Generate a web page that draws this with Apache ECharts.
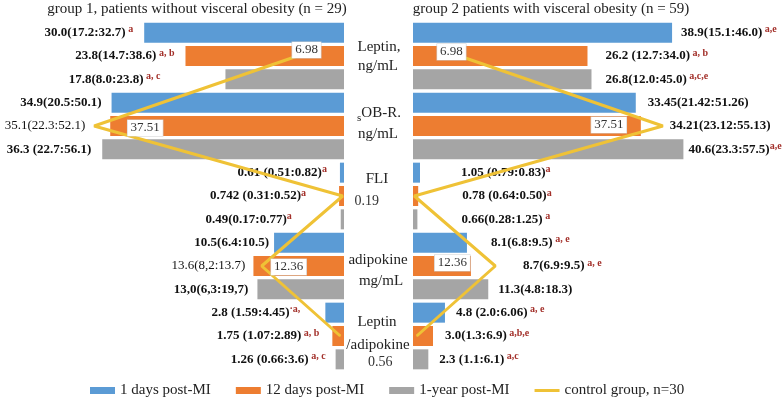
<!DOCTYPE html>
<html><head><meta charset="utf-8">
<script src="https://cdn.jsdelivr.net/npm/echarts@6/dist/echarts.min.js"></script>
<style>html,body{margin:0;padding:0;background:#fff}#c{width:784px;height:397px}</style>
</head><body><div id="c"></div>
<script>
const categories = ['Leptin', 'sOB-R', 'FLI', 'adipokine', 'Leptin/adipokine'];
const seriesNames = ['1 days post-MI', '12 days post-MI', '1-year post-MI'];
const controlName = 'control group, n=30';

// group 1 (without visceral obesity) medians
const g1Day1 = [30.0, 34.9, 0.61, 10.5, 2.8];
const g1Day12 = [23.8, 35.1, 0.742, 13.6, 1.75];
const g1Year = [17.8, 36.3, 0.49, 13.0, 1.26];
// group 2 (with visceral obesity) medians
const g2Day1 = [38.9, 33.45, 1.05, 8.1, 4.8];
const g2Day12 = [26.2, 34.21, 0.78, 8.7, 3.0];
const g2Year = [26.8, 40.6, 0.66, 11.3, 2.3];
// control group
const control = [6.98, 37.51, 0.19, 12.36, 0.56];

// label texts
const g1Day1Txt = ['30.0(17.2:32.7)', '34.9(20.5:50.1)', '0.61 (0.51:0.82)', '10.5(6.4:10.5)', '2.8 (1.59:4.45)'];
const g1Day1Sup = [' a', '', 'a', '', '\u00b7a,'];
const g1Day12Txt = ['23.8(14.7:38.6)', '35.1(22.3:52.1)', '0.742 (0.31:0.52)', '13.6(8,2:13.7)', '1.75 (1.07:2.89)'];
const g1Day12Sup = [' a, b', '', 'a', '', ' a, b'];
const g1YearTxt = ['17.8(8.0:23.8)', '36.3 (22.7:56.1)', '0.49(0.17:0.77)', '13,0(6,3:19,7)', '1.26 (0.66:3.6)'];
const g1YearSup = [' a, c', '', 'a', '', ' a, c'];
const g2Day1Txt = ['38.9(15.1:46.0)', '33.45(21.42:51.26)', '1.05 (0.79:0.83)', '8.1(6.8:9.5)', '4.8 (2.0:6.06)'];
const g2Day1Sup = [' a,e', '', 'a', ' a, e', ' a, e'];
const g2Day12Txt = ['26.2 (12.7:34.0)', '34.21(23.12:55.13)', '0.78 (0.64:0.50)', '8.7(6.9:9.5)', '3.0(1.3:6.9)'];
const g2Day12Sup = [' a, b', '', 'a', ' a, e', ' a,b,e'];
const g2YearTxt = ['26.8(12.0:45.0)', '40.6(23.3:57.5)', '0.66(0.28:1.25)', '11.3(4.8:18.3)', '2.3 (1.1:6.1)'];
const g2YearSup = [' a,c,e', 'a,e', ' a', '', ' a,c'];

// label gaps (px) between bar end and label
const g1Day1Gap = [11, 10, 13, 5, 25];
const g1Day12Gap = [11, 25, 33, 8, 13];
const g1YearGap = [65, 11, 49, 9, 10];
const g2Day1Gap = [9, 12, 41, 24, 11];
const g2Day12Gap = [18, 29, 44, 52, 12];
const g2YearGap = [14, 5, 44, 10, 11];
const g1Day12Plain = [1, 3];

const colors = ['#5b9bd5', '#ed7d31', '#a5a5a5'];
const lineColor = '#efc236';
const serif = '"Liberation Serif", "Times New Roman", serif';

const rich = {
  v: {fontFamily: serif, fontSize: 13, fontWeight: 'bold', color: '#111', lineHeight: 16},
  p: {fontFamily: serif, fontSize: 13, color: '#111', lineHeight: 16},
  s: {fontFamily: serif, fontSize: 10, fontWeight: 'bold', color: '#a3302a', lineHeight: 8, verticalAlign: 'top'}
};

function barSeries(name, values, txt, sup, gaps, gi, color, side, plain) {
  plain = plain || [];
  return {
    type: 'bar', name: name, xAxisIndex: gi, yAxisIndex: gi,
    barWidth: 20, barGap: '16.7%',
    itemStyle: {color: color},
    data: values.map((v, i) => ({value: v, label: {distance: gaps[i]}})),
    label: {
      show: true, position: side,
      formatter: p => {
        const i = p.dataIndex;
        const main = '{' + (plain.includes(i) ? 'p' : 'v') + '|' + txt[i] + '}';
        return sup[i] ? main + '{s|' + sup[i] + '}' : main;
      },
      rich: rich
    },
    z: 2
  };
}

const boxLabel = {backgroundColor: '#fff', borderColor: '#cfcfcf', borderWidth: 0.6, padding: [2, 3, 1, 3]};
const leftCtlLabel = [
  Object.assign({show: true, offset: [9, -6]}, boxLabel),
  Object.assign({show: true, offset: [51, 2]}, boxLabel),
  {show: true, offset: [24, 5], fontSize: 14},
  Object.assign({show: true, offset: [27, 1]}, boxLabel),
  {show: true, offset: [40, 26], fontSize: 14}
];
const rightCtlLabel = [
  Object.assign({show: true, offset: [-8, -4]}, boxLabel),
  Object.assign({show: true, offset: [-54, -1]}, boxLabel),
  {show: false},
  Object.assign({show: true, offset: [-43, -3]}, boxLabel),
  {show: false}
];

function lineSeries(gi, labels) {
  return {
    type: 'line', name: controlName, xAxisIndex: gi, yAxisIndex: gi,
    symbol: 'circle', symbolSize: 1, showSymbol: true,
    lineStyle: {color: lineColor, width: 3},
    itemStyle: {color: lineColor},
    data: control.map((v, i) => ({value: v, label: labels[i]})),
    label: {position: 'inside', fontFamily: serif, fontSize: 13, color: '#333', formatter: p => control[p.dataIndex].toFixed(2)},
    z: 5
  };
}

const hiddenX = (inv) => ({type: 'value', min: 0, max: 50, inverse: inv, show: false});
const hiddenY = (gi) => ({type: 'category', data: categories, inverse: true, show: false, gridIndex: gi});

const chart = echarts.init(document.getElementById('c'));
const midText = (t, x, y) => ({type: 'text', x: x, y: y, style: {text: t, fontFamily: serif, fontSize: 15, fill: '#222', align: 'center', verticalAlign: 'middle'}});

chart.setOption({
  animation: false,
  backgroundColor: '#fff',
  grid: [
    {left: 11, top: 21, width: 333, height: 350},
    {left: 413, top: 21, width: 333, height: 350}
  ],
  xAxis: [Object.assign(hiddenX(true), {gridIndex: 0}), Object.assign(hiddenX(false), {gridIndex: 1})],
  yAxis: [hiddenY(0), hiddenY(1)],
  legend: {
    left: 85, top: 378, itemGap: 25, itemWidth: 25, itemHeight: 7,
    textStyle: {fontFamily: serif, fontSize: 15, color: '#222'},
    data: [
      {name: seriesNames[0], icon: 'rect'},
      {name: seriesNames[1], icon: 'rect'},
      {name: seriesNames[2], icon: 'rect'},
      {name: controlName, icon: 'path://M0,0 L25,0 L25,3 L0,3 Z'}
    ]
  },
  graphic: [
    midText('group 1, patients without visceral obesity (n = 29)', 197, 9),
    midText('group 2 patients with visceral obesity (n = 59)', 551, 9),
    midText('Leptin,', 379, 47),
    midText('ng/mL', 378, 66),
    {type: 'text', x: 379, y: 113, style: {text: '{s|s}{n|OB-R.}', align: 'center', verticalAlign: 'middle', rich: {
      s: {fontFamily: serif, fontSize: 11, fill: '#222', lineHeight: 22, verticalAlign: 'bottom'},
      n: {fontFamily: serif, fontSize: 15, fill: '#222', lineHeight: 18, verticalAlign: 'middle'}
    }}},
    midText('ng/mL', 378, 134),
    midText('FLI', 377, 179),
    midText('adipokine', 378, 260),
    midText('mg/mL', 381, 281),
    midText('Leptin', 377, 322),
    midText('/adipokine', 378, 345)
  ],
  series: [
    barSeries(seriesNames[0], g1Day1, g1Day1Txt, g1Day1Sup, g1Day1Gap, 0, colors[0], 'left'),
    barSeries(seriesNames[1], g1Day12, g1Day12Txt, g1Day12Sup, g1Day12Gap, 0, colors[1], 'left', g1Day12Plain),
    barSeries(seriesNames[2], g1Year, g1YearTxt, g1YearSup, g1YearGap, 0, colors[2], 'left'),
    barSeries(seriesNames[0], g2Day1, g2Day1Txt, g2Day1Sup, g2Day1Gap, 1, colors[0], 'right'),
    barSeries(seriesNames[1], g2Day12, g2Day12Txt, g2Day12Sup, g2Day12Gap, 1, colors[1], 'right'),
    barSeries(seriesNames[2], g2Year, g2YearTxt, g2YearSup, g2YearGap, 1, colors[2], 'right'),
    lineSeries(0, leftCtlLabel),
    lineSeries(1, rightCtlLabel)
  ]
});
</script>
</body></html>
